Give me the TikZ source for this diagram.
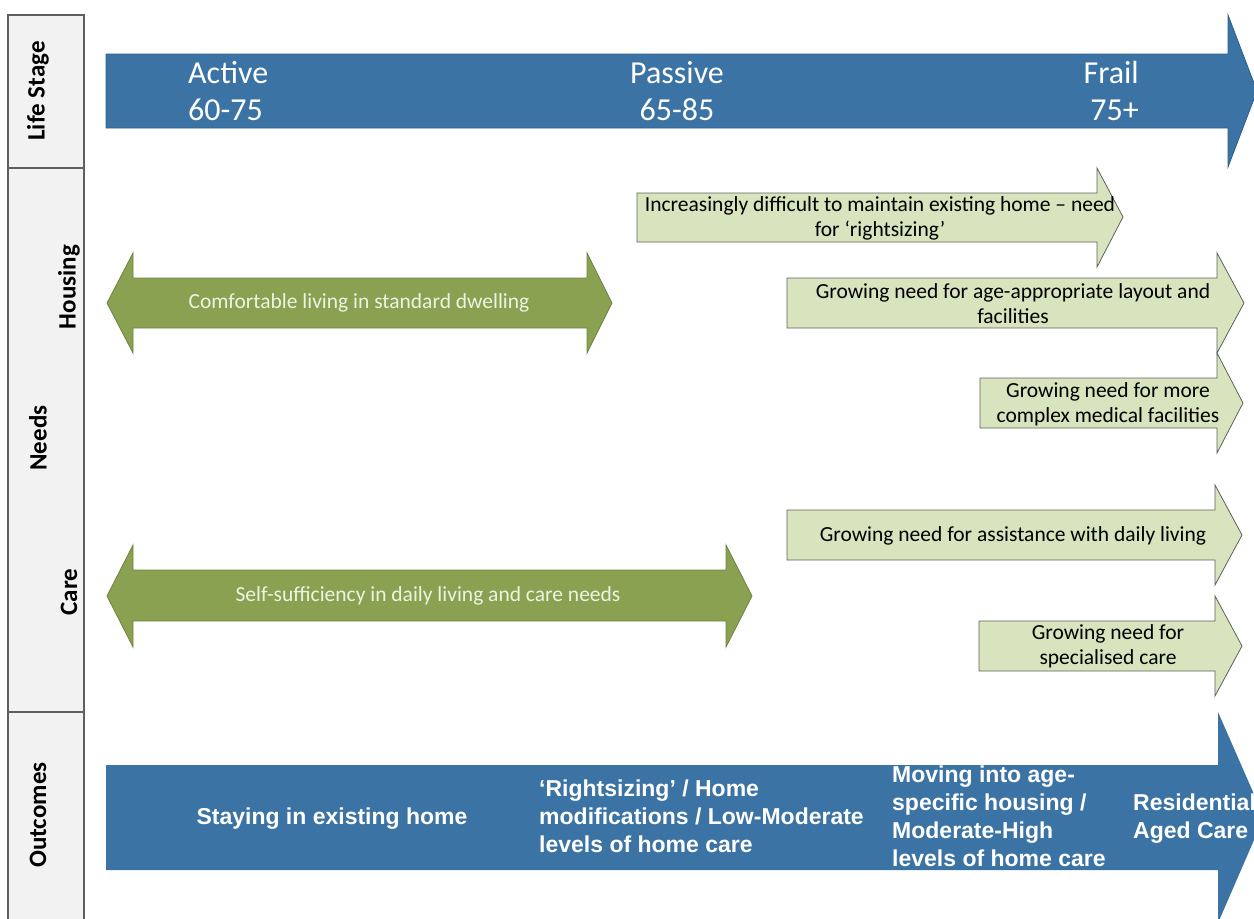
\documentclass[tikz,border=0pt]{standalone}
\usepackage{fontspec}
\setmainfont{Carlito}
\newfontfamily\outfont{Liberation Sans}
\definecolor{stageblue}{HTML}{3B73A5}
\definecolor{stageedge}{HTML}{2E5F8C}
\definecolor{olive}{HTML}{8BA152}
\definecolor{oliveedge}{HTML}{6C8240}
\definecolor{olivetext}{HTML}{EEF3E2}
\definecolor{palegreen}{HTML}{D8E4BD}
\definecolor{sidefill}{HTML}{F2F2F2}
\definecolor{sideedge}{HTML}{5F5F5F}
\begin{document}
\begin{tikzpicture}[x=1pt,y=-1pt,
		sidebox/.style={draw=sideedge,fill=sidefill,line width=1.2pt},
		sidelabel/.style={rotate=90,inner sep=0pt,font=\fontsize{25}{29}\selectfont\bfseries},
		bluearrow/.style={fill=stageblue,draw=stageedge,line width=0.8pt},
		olivearrow/.style={fill=olive,draw=oliveedge,line width=0.8pt},
		palearrow/.style={fill=palegreen,draw=sideedge,line width=0.8pt},
		stagetext/.style={text=white,inner sep=0pt,font=\fontsize{32}{37}\selectfont},
		olivelabel/.style={text=olivetext,inner sep=0pt,font=\fontsize{21.5}{25}\selectfont},
		palelabel/.style={align=center,inner sep=0pt,font=\fontsize{21.5}{25}\selectfont},
		outlabel/.style={text=white,align=left,inner sep=0pt,font=\outfont\bfseries\fontsize{23}{28}\selectfont}]
		\useasboundingbox (0,0) rectangle (1254,919);

		% left column
		\draw[sidebox] (8,15) rectangle (84,168);
		\draw[sidebox] (8,168) rectangle (84,712);
		\draw[sidebox] (8,712) rectangle (84,930);
		\node[sidelabel] (lifestage) at (38,91) {Life Stage};
		\node[sidelabel] (needs) at (38,438) {Needs};
		\node[sidelabel] (housing) at (69,287) {Housing};
		\node[sidelabel] (care) at (69,592) {Care};
		\node[sidelabel] (outcomes) at (38,815) {Outcomes};

		% life stage arrow
		\draw[bluearrow] (106,54) -- (1228,54) -- (1228,15) -- (1257,91)
			-- (1228,167) -- (1228,128) -- (106,128) -- cycle;
		\node[stagetext,align=left,anchor=west] (active) at (188,91) {Active\\60-75};
		\node[stagetext,align=center] (passive) at (677,91) {Passive\\65-85};
		\node[stagetext,align=right,anchor=east] (frail) at (1139,91) {Frail\\75+};

		% housing
		\draw[olivearrow] (107,303) -- (133,253) -- (133,278) -- (587,278) -- (587,253)
			-- (612,303) -- (587,353) -- (587,328) -- (133,328) -- (133,353) -- cycle;
		\node[olivelabel] (comfort) at (359,303) {Comfortable living in standard dwelling};

		\draw[palearrow] (637,193) -- (1097,193) -- (1097,168) -- (1123,217)
			-- (1097,267) -- (1097,242) -- (637,242) -- cycle;
		\node[palelabel] (rightsizing) at (880,218) {Increasingly difficult to maintain existing home – need\\for ‘rightsizing’};

		\draw[palearrow] (787,278) -- (1217,278) -- (1217,253) -- (1244,303)
			-- (1217,353) -- (1217,328) -- (787,328) -- cycle;
		\node[palelabel] (layout) at (1013,304) {Growing need for age-appropriate layout and\\facilities};

		\draw[palearrow] (980,378) -- (1217,378) -- (1217,353) -- (1243,403)
			-- (1217,453) -- (1217,428) -- (980,428) -- cycle;
		\node[palelabel] (medical) at (1108,404) {Growing need for more\\complex medical facilities};

		% care
		\draw[olivearrow] (107,596) -- (133,545) -- (133,570) -- (726,570) -- (726,545)
			-- (752,596) -- (726,647) -- (726,621) -- (133,621) -- (133,647) -- cycle;
		\node[olivelabel] (selfsuff) at (428,596) {Self-sufficiency in daily living and care needs};

		\draw[palearrow] (787,510) -- (1215,510) -- (1215,485) -- (1242,535)
			-- (1215,585) -- (1215,560) -- (787,560) -- cycle;
		\node[palelabel] (assist) at (1013,536) {Growing need for assistance with daily living};

		\draw[palearrow] (979,621) -- (1215,621) -- (1215,596) -- (1242,646)
			-- (1215,696) -- (1215,671) -- (979,671) -- cycle;
		\node[palelabel] (special) at (1108,646) {Growing need for\\specialised care};

		% outcomes arrow
		\draw[bluearrow,draw=none] (106,765) -- (1218,765) -- (1218,712) -- (1264,817)
			-- (1218,923) -- (1218,870) -- (106,870) -- cycle;
		\node[outlabel] (staying) at (332,819) {Staying in existing home};
		\node[outlabel,anchor=west] (homemods) at (539,816) {‘Rightsizing’ / Home\\modifications / Low-Moderate\\levels of home care};
		\node[outlabel,anchor=west] (agespecific) at (892,816) {Moving into age-\\specific housing /\\Moderate-High\\levels of home care};
		\node[outlabel,anchor=west] (residential) at (1133,819) {Residential\\Aged Care};
	\end{tikzpicture}
\end{document}
